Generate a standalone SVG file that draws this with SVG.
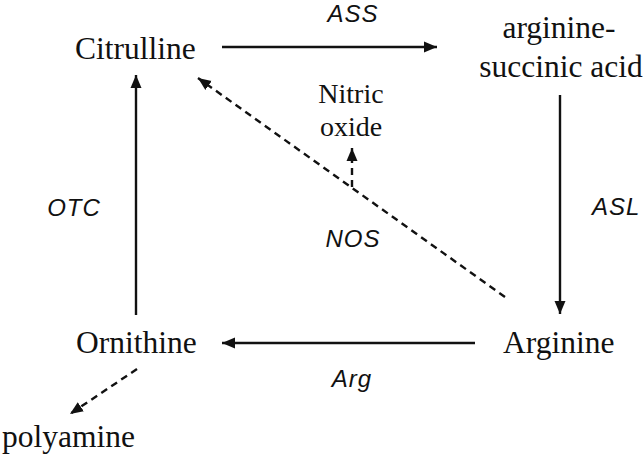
<svg xmlns="http://www.w3.org/2000/svg" width="644" height="461" viewBox="0 0 644 461">
<style>
.n{font-family:"Liberation Serif","Times New Roman",serif;font-size:31.5px;fill:#111}
.s{font-family:"Liberation Serif","Times New Roman",serif;font-size:28px;fill:#111}
.e{font-family:"Liberation Sans",Arial,sans-serif;font-style:italic;font-size:24px;fill:#111;letter-spacing:1px}
.c{stroke:#111;stroke-width:2.4;fill:none}
.d{stroke-dasharray:7 5}
</style>
<defs>
<marker id="a" markerUnits="userSpaceOnUse" markerWidth="14" markerHeight="12" refX="13" refY="6" orient="auto">
<path d="M0,0.5 L13,6 L0,11.5 z" fill="#111"/>
</marker>
</defs>
<rect width="644" height="461" fill="#fff"/>
<g id="connectors">
<line class="c" x1="222" y1="47" x2="437" y2="47" marker-end="url(#a)"/>
<line class="c" x1="560" y1="95" x2="560" y2="314" marker-end="url(#a)"/>
<line class="c" x1="475" y1="343" x2="222" y2="343" marker-end="url(#a)"/>
<line class="c" x1="136" y1="315" x2="136" y2="75" marker-end="url(#a)"/>
<line class="c d" x1="505" y1="297" x2="198" y2="78" marker-end="url(#a)"/>
<line class="c d" x1="352" y1="187" x2="352" y2="148" marker-end="url(#a)"/>
<line class="c d" x1="137" y1="369" x2="70" y2="414" marker-end="url(#a)"/>
</g>
<g id="citrulline"><text class="n" x="75" y="59">Citrulline</text></g>
<g id="argininosuccinic"><text class="n" x="559" y="38" text-anchor="middle">arginine-</text><text class="n" x="561" y="77" text-anchor="middle">succinic acid</text></g>
<g id="arginine"><text class="n" x="503" y="353">Arginine</text></g>
<g id="ornithine"><text class="n" x="76" y="353">Ornithine</text></g>
<g id="polyamine"><text class="n" x="2" y="447">polyamine</text></g>
<g id="nitric-oxide"><text class="s" x="351" y="103" text-anchor="middle">Nitric</text><text class="s" x="351" y="136" text-anchor="middle">oxide</text></g>
<g id="labels">
<text class="e" x="353" y="22" text-anchor="middle">ASS</text>
<text class="e" x="592" y="215">ASL</text>
<text class="e" x="74" y="216" text-anchor="middle">OTC</text>
<text class="e" x="353" y="247" text-anchor="middle">NOS</text>
<text class="e" x="352" y="387" text-anchor="middle">Arg</text>
</g>
</svg>
